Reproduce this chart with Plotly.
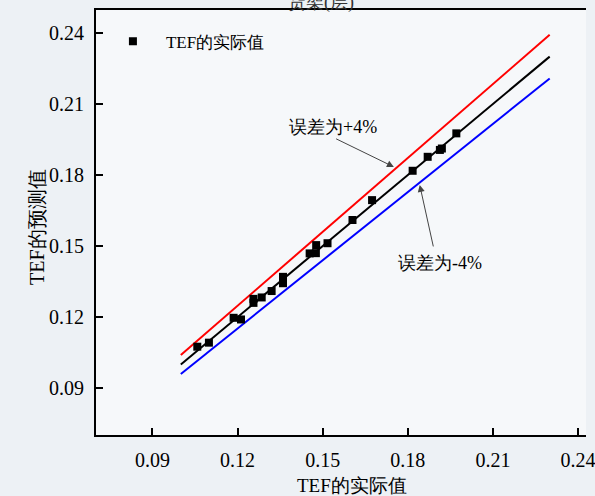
import plotly.graph_objects as go

# Measured vs predicted TEF values
tef_actual = [0.1058, 0.1099, 0.1186, 0.1212, 0.1256, 0.1256, 0.1285, 0.1320,
              0.1360, 0.1360, 0.1454, 0.1476, 0.1477, 0.1517, 0.1605, 0.1674,
              0.1817, 0.1870, 0.1913, 0.1920, 0.1971]
tef_predicted = [0.1075, 0.1092, 0.1197, 0.1190, 0.1277, 0.1260, 0.1283, 0.1310,
                 0.1370, 0.1343, 0.1469, 0.1470, 0.1504, 0.1512, 0.1610, 0.1694,
                 0.1818, 0.1877, 0.1906, 0.1912, 0.1976]

# Reference line y = x and the ±4 % error band, over x from 0.10 to 0.23
ref_x = [0.10, 0.23]
ref_exact = [0.10, 0.23]
ref_plus4 = [0.104, 0.2392]
ref_minus4 = [0.096, 0.2208]

tick_vals = [0.09, 0.12, 0.15, 0.18, 0.21, 0.24]
tick_text = ["0.09", "0.12", "0.15", "0.18", "0.21", "0.24"]

FONT = "Liberation Serif"

fig = go.Figure()

fig.add_trace(go.Scatter(x=ref_x, y=ref_plus4, mode="lines",
                         line=dict(color="#ff0000", width=2), showlegend=False))
fig.add_trace(go.Scatter(x=ref_x, y=ref_exact, mode="lines",
                         line=dict(color="#000000", width=2), showlegend=False))
fig.add_trace(go.Scatter(x=ref_x, y=ref_minus4, mode="lines",
                         line=dict(color="#0000ff", width=2), showlegend=False))
fig.add_trace(go.Scatter(x=tef_actual, y=tef_predicted, mode="markers",
                         name="TEF的实际值",
                         marker=dict(symbol="square", size=8, color="#000000")))

axis_common = dict(
    showgrid=False, zeroline=False, showline=True, linecolor="#000000",
    linewidth=2, ticks="inside", ticklen=7, tickwidth=2, tickcolor="#000000",
    tickvals=tick_vals, ticktext=tick_text,
    tickfont=dict(family=FONT, size=20, color="#000000"),
    ticklabeloverflow="allow",
)

fig.update_xaxes(range=[0.0701, 0.2428], mirror=True, ticklabelstandoff=6,
                 **axis_common)
fig.update_yaxes(range=[0.0702, 0.2497], mirror=False, ticklabelstandoff=6,
                 **axis_common)

annotations = [
    # axis titles
    dict(text="TEF的实际值", xref="paper", yref="paper", x=0.522, y=-0.118,
         xanchor="center", yanchor="middle", showarrow=False,
         font=dict(family=FONT, size=19, color="#000000")),
    dict(text="TEF的预测值", xref="paper", yref="paper", x=-0.12, y=0.49,
         xanchor="center", yanchor="middle", showarrow=False, textangle=-90,
         font=dict(family=FONT, size=20, color="#000000")),
    # error band labels
    dict(text="误差为+4%", x=0.1535, y=0.2003, xref="x", yref="y",
         showarrow=False, font=dict(family=FONT, size=18, color="#000000")),
    dict(text="误差为-4%", x=0.1912, y=0.1428, xref="x", yref="y",
         showarrow=False, font=dict(family=FONT, size=18, color="#000000")),
    # pointer arrows
    dict(text="", x=0.1751, y=0.1834, ax=0.1542, ay=0.1956,
         xref="x", yref="y", axref="x", ayref="y", showarrow=True,
         arrowhead=2, arrowsize=1.4, arrowwidth=1, arrowcolor="#444444"),
    dict(text="", x=0.1842, y=0.1758, ax=0.1891, ay=0.1492,
         xref="x", yref="y", axref="x", ayref="y", showarrow=True,
         arrowhead=2, arrowsize=1.4, arrowwidth=1, arrowcolor="#444444"),
    # caption cut off at the top edge
    dict(text="货架(层)", xref="paper", yref="paper", x=0.459, y=1.0,
         xanchor="center", yanchor="bottom", yshift=-5, showarrow=False,
         font=dict(family=FONT, size=18, color="#333333")),
]

fig.update_layout(
    width=595, height=496,
    margin=dict(l=96, r=0, t=10, b=61),
    paper_bgcolor="#edf1f5",
    plot_bgcolor="#f6f8fa",
    annotations=annotations,
    legend=dict(x=0.008, y=0.968, xanchor="left", yanchor="top",
                bgcolor="rgba(0,0,0,0)", itemwidth=56,
                font=dict(family=FONT, size=17, color="#000000")),
)

fig.write_html("out.html")
